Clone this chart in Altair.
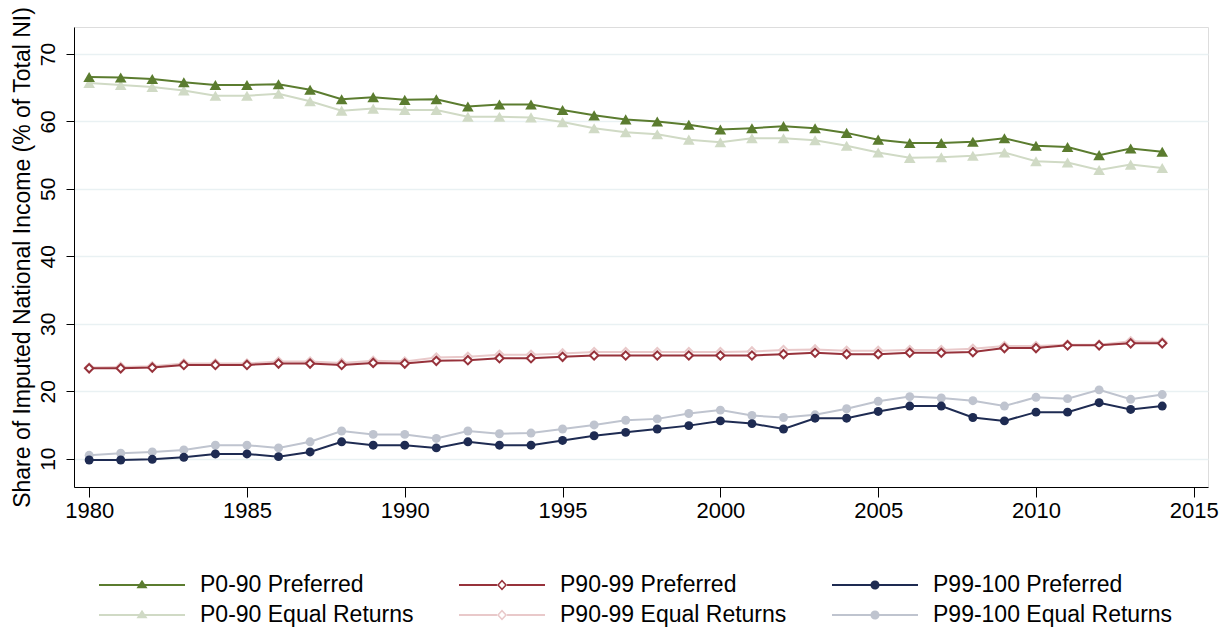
import altair as alt
import pandas as pd

years = list(range(1980, 2015))

p090_pref = [66.6, 66.5, 66.3, 65.8, 65.4, 65.4, 65.5, 64.7, 63.3, 63.6, 63.2, 63.3, 62.2, 62.5, 62.5, 61.7, 60.9, 60.3,
             60.0, 59.5, 58.8, 59.0, 59.3, 59.0, 58.3, 57.3, 56.8, 56.8, 57.0, 57.5, 56.4, 56.2, 55.0, 56.0, 55.5]
p090_eq = [65.7, 65.4, 65.1, 64.6, 63.8, 63.8, 64.1, 63.0, 61.6, 61.9, 61.7, 61.7, 60.7, 60.7, 60.6, 59.9, 59.0, 58.4,
           58.1, 57.3, 56.9, 57.5, 57.5, 57.2, 56.4, 55.4, 54.6, 54.7, 54.9, 55.4, 54.1, 53.9, 52.8, 53.6, 53.1]
p9099_pref = [23.4, 23.4, 23.5, 23.9, 23.9, 23.9, 24.1, 24.1, 23.9, 24.2, 24.1, 24.5, 24.6, 24.9, 24.9, 25.1, 25.3, 25.3,
              25.3, 25.3, 25.3, 25.3, 25.5, 25.7, 25.5, 25.5, 25.7, 25.7, 25.8, 26.4, 26.4, 26.8, 26.8, 27.1, 27.1]
p9099_eq = [23.5, 23.6, 23.7, 24.1, 24.1, 24.1, 24.4, 24.4, 24.2, 24.5, 24.4, 25.0, 25.1, 25.4, 25.4, 25.6, 25.8, 25.8,
            25.8, 25.8, 25.8, 25.9, 26.1, 26.2, 26.0, 26.0, 26.1, 26.1, 26.3, 26.7, 26.7, 26.9, 26.9, 27.4, 27.3]
p99_pref = [9.8, 9.8, 9.9, 10.2, 10.7, 10.7, 10.3, 11.0, 12.5, 12.0, 12.0, 11.6, 12.5, 12.0, 12.0, 12.7, 13.4, 13.9,
            14.4, 14.9, 15.6, 15.2, 14.4, 16.0, 16.0, 17.0, 17.8, 17.8, 16.1, 15.6, 16.9, 16.9, 18.3, 17.3, 17.8]
p99_eq = [10.5, 10.8, 11.0, 11.3, 12.0, 12.0, 11.6, 12.5, 14.1, 13.6, 13.6, 13.0, 14.1, 13.7, 13.8, 14.4, 15.0, 15.7,
          15.9, 16.7, 17.2, 16.4, 16.1, 16.5, 17.4, 18.5, 19.2, 19.0, 18.6, 17.8, 19.1, 18.9, 20.2, 18.8, 19.5]

# order: column-major legend (each column = one income group)
series_names = ["P0-90 Preferred", "P0-90 Equal Returns",
                "P90-99 Preferred", "P90-99 Equal Returns",
                "P99-100 Preferred", "P99-100 Equal Returns"]
series_values = [p090_pref, p090_eq, p9099_pref, p9099_eq, p99_pref, p99_eq]
series_group = ["P0-90", "P0-90", "P90-99", "P90-99", "P99-100", "P99-100"]
series_kind = ["Preferred", "Equal", "Preferred", "Equal", "Preferred", "Equal"]
colors = ["#5b7c2f", "#d0dac5", "#97323b", "#e9c9ca", "#1e2b52", "#bfc4cf"]

x_ticks = [1980, 1985, 1990, 1995, 2000, 2005, 2010, 2015]
y_ticks = [10, 20, 30, 40, 50, 60, 70]

rows = []
for name, vals, grp, kind in zip(series_names, series_values, series_group, series_kind):
    for yr, v in zip(years, vals):
        rows.append({"year": yr, "value": v, "series": name, "group": grp, "kind": kind})
df = pd.DataFrame(rows)

FONT = "Liberation Sans"

# legend symbols: line segment + marker (unit = sqrt(size)/2 = 12 px)
tri_path = "M-3.583,-0.083H3.583V0.083H-3.583ZM0,-0.44L0.46,0.27L-0.46,0.27Z"
dia_path = ("M-3.583,-0.083H-0.42V0.083H-3.583ZM0.42,-0.083H3.583V0.083H0.42Z"
            "M0,-0.46L0.42,0L0,0.46L-0.42,0ZM0,-0.27L-0.25,0L0,0.27L0.25,0Z")
cir_path = "M-3.583,-0.083H3.583V0.083H-3.583ZM-0.38,0A0.38,0.38,0,1,1,0.38,0A0.38,0.38,0,1,1,-0.38,0Z"
shape_range = [tri_path, tri_path, dia_path, dia_path, cir_path, cir_path]

color_scale = alt.Scale(domain=series_names, range=colors)

x_enc = alt.X("year:Q",
              scale=alt.Scale(domain=[1979.52, 2015.45], nice=False, zero=False),
              axis=alt.Axis(values=x_ticks, format="d", title=None, grid=False, tickSize=10,
                            labelFontSize=22, labelPadding=3, labelFont=FONT, labelColor="black",
                            domainColor="black", tickColor="black", domainWidth=1, tickWidth=1))
y_enc = alt.Y("value:Q",
              scale=alt.Scale(domain=[5.8, 74], nice=False, zero=False),
              axis=alt.Axis(values=y_ticks, title="Share of Imputed National Income (% of Total NI)",
                            labelAngle=270, tickSize=8, labelFontSize=21, labelPadding=8, labelFont=FONT,
                            labelColor="black", grid=True, gridColor="#e9f1f3", gridWidth=1.5,
                            domainColor="black", tickColor="black", domainWidth=1, tickWidth=1,
                            titleFont=FONT, titleFontSize=23, titleFontWeight="normal",
                            titleColor="black", titlePadding=3))


def part(kind):
    d = df[df["kind"] == kind]
    line = alt.Chart(d).mark_line(strokeWidth=2).encode(
        x=x_enc, y=y_enc, color=alt.Color("series:N", scale=color_scale, legend=None))
    tri = alt.Chart(d[d["group"] == "P0-90"]).mark_point(
        shape="triangle-up", filled=True, size=135, opacity=1).encode(
        x=x_enc, y=y_enc, color=alt.Color("series:N", scale=color_scale, legend=None))
    dia = alt.Chart(d[d["group"] == "P90-99"]).mark_point(
        shape="diamond", filled=False, size=70, strokeWidth=2, opacity=1, fill="white").encode(
        x=x_enc, y=y_enc, color=alt.Color("series:N", scale=color_scale, legend=None))
    cir = alt.Chart(d[d["group"] == "P99-100"]).mark_point(
        shape="circle", filled=True, size=80, opacity=1).encode(
        x=x_enc, y=y_enc, color=alt.Color("series:N", scale=color_scale, legend=None))
    return [line, tri, dia, cir]


legend_def = alt.Legend(title=None, orient="none", legendX=25, legendY=546, columns=3,
                        labelFontSize=23, labelFont=FONT, labelColor="black", labelLimit=500,
                        symbolSize=576, symbolStrokeWidth=0, symbolOffset=31, labelOffset=46,
                        rowPadding=6, columnPadding=45)

legend_layer = alt.Chart(df).mark_point(filled=True, opacity=1).encode(
    x=x_enc, y=y_enc,
    color=alt.Color("series:N", scale=color_scale, legend=legend_def),
    shape=alt.Shape("series:N", scale=alt.Scale(domain=series_names, range=shape_range), legend=legend_def),
).transform_filter("false")

chart = alt.layer(legend_layer, *part("Equal"), *part("Preferred")).properties(
    width=1134, height=460,
    autosize=alt.AutoSizeParams(type="none"),
    padding={"left": 66, "top": 19, "right": 13, "bottom": 140},
).configure_view(stroke=None).configure(font=FONT)

chart.save("out.html", embed_options={"renderer": "svg", "actions": False})
